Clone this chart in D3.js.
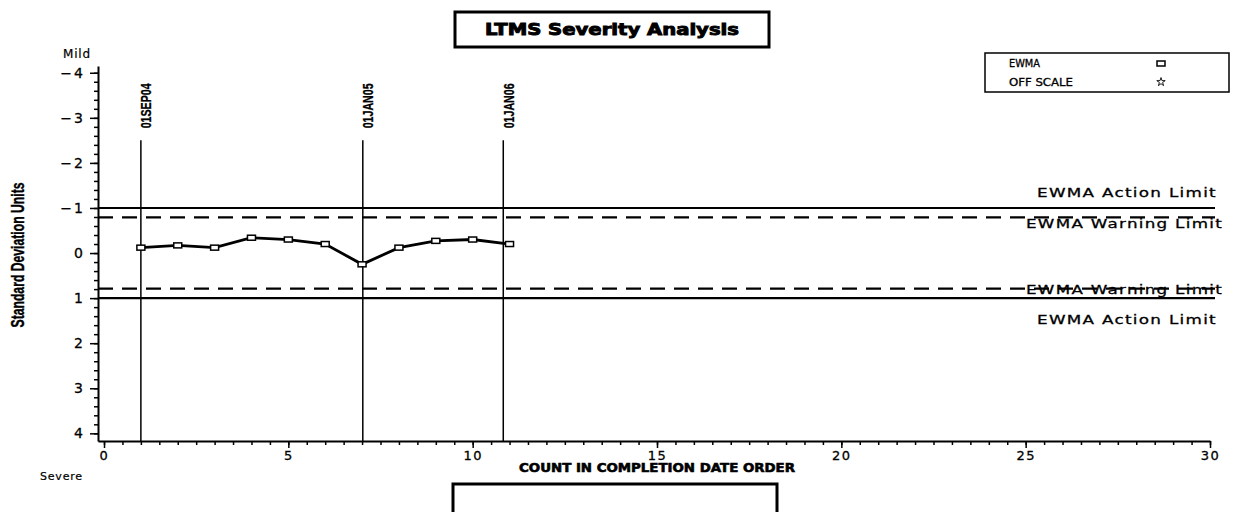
<!DOCTYPE html>
<html>
<head>
<meta charset="utf-8">
<script src="https://cdn.jsdelivr.net/npm/d3@7"></script>
<style>
  body { margin: 0; background: #fff; }
  svg { display: block; }
  text { fill: #000; }
</style>
</head>
<body>
<div id="chart"></div>
<script>
// data
let counts = [1, 2, 3, 4, 5, 6, 7, 8, 9, 10, 11];
let ewma = [-0.12, -0.17, -0.12, -0.34, -0.30, -0.20, 0.25, -0.12, -0.27, -0.30, -0.20];
let dateLabels = ['01SEP04', '01JAN05', '01JAN06'];
let dateCounts = [1, 7.02, 10.83];
let limitValues = [-1, -0.79, 0.79, 1];
let limitNames = ['EWMA Action Limit', 'EWMA Warning Limit', 'EWMA Warning Limit', 'EWMA Action Limit'];
let limitDashed = [false, true, true, false];
let xTicks = [0, 5, 10, 15, 20, 25, 30];
let yTicks = [-4, -3, -2, -1, 0, 1, 2, 3, 4];
let legendNames = ['EWMA', 'OFF SCALE'];

let config = {svg: {}, plot: {}};
config.svg.width = 1234;
config.svg.height = 512;
config.plot.left = 98;
config.plot.right = 1210;
config.plot.top = 66;
config.plot.bottom = 441;

let svg = d3.select('#chart').append('svg')
    .attr('width', config.svg.width)
    .attr('height', config.svg.height);

let x = d3.scaleLinear().domain([-0.163, 30]).range([config.plot.left, config.plot.right]);
let y = d3.scaleLinear().domain([-4.15, 4.17]).range([config.plot.top, config.plot.bottom]);

let tickFont = '"DejaVu Sans", sans-serif';

// title box
svg.append('rect')
  .attr('x', 455).attr('y', 12).attr('width', 314).attr('height', 35)
  .attr('fill', 'none').attr('stroke', '#000').attr('stroke-width', 3);
svg.append('text')
  .attr('x', 612).attr('y', 35)
  .attr('text-anchor', 'middle')
  .style('font', 'bold 15px "DejaVu Sans", sans-serif')
  .attr('stroke', '#000').attr('stroke-width', 0.9)
  .attr('textLength', 254).attr('lengthAdjust', 'spacingAndGlyphs')
  .text('LTMS Severity Analysis');

// legend box
let legend = svg.append('g');
legend.append('rect')
  .attr('x', 985).attr('y', 53).attr('width', 244).attr('height', 39)
  .attr('fill', 'none').attr('stroke', '#000').attr('stroke-width', 1.5);
legend.selectAll('text.lg').data(legendNames).enter().append('text')
  .attr('class', 'lg')
  .attr('x', 1009)
  .attr('y', (d, i) => 67 + i * 19)
  .style('font', '10px "DejaVu Sans", sans-serif')
  .attr('stroke', '#000').attr('stroke-width', 0.3)
  .attr('textLength', (d, i) => i === 0 ? 31 : 64)
  .attr('lengthAdjust', 'spacingAndGlyphs')
  .text(d => d);
legend.append('rect')
  .attr('x', 1157).attr('y', 61).attr('width', 8).attr('height', 5)
  .attr('fill', 'none').attr('stroke', '#000').attr('stroke-width', 1.5);
legend.append('path')
  .attr('d', d3.symbol().type(d3.symbolStar).size(22))
  .attr('transform', 'translate(1161,82)')
  .attr('fill', 'none').attr('stroke', '#000').attr('stroke-width', 0.9);

// x axis, major + minor ticks
svg.append('g')
  .attr('transform', 'translate(0,' + config.plot.bottom + ')')
  .call(d3.axisBottom(x).tickValues(d3.range(0, 30.01, 0.5)).tickSize(4).tickFormat(''))
  .call(g => g.select('.domain').remove())
  .call(g => g.selectAll('line').attr('stroke-width', 1.5));
let xAxis = svg.append('g')
  .attr('transform', 'translate(0,' + config.plot.bottom + ')')
  .call(d3.axisBottom(x).tickValues(xTicks).tickSize(7).tickPadding(3).tickSizeOuter(0).tickFormat(d3.format('d')));
xAxis.select('.domain').attr('stroke-width', 2);
xAxis.selectAll('line').attr('stroke-width', 1.5);
xAxis.selectAll('text')
  .style('font', '13px ' + tickFont)
  .style('letter-spacing', '1.5px')
  .attr('stroke', '#000').attr('stroke-width', 0.3);

// y axis, major + minor ticks
svg.append('g')
  .attr('transform', 'translate(' + config.plot.left + ',0)')
  .call(d3.axisLeft(y).tickValues(d3.range(-4, 4.01, 0.2)).tickSize(4).tickFormat(''))
  .call(g => g.select('.domain').remove())
  .call(g => g.selectAll('line').attr('stroke-width', 1.5));
let yAxis = svg.append('g')
  .attr('transform', 'translate(' + config.plot.left + ',0)')
  .call(d3.axisLeft(y).tickValues(yTicks).tickSize(8).tickPadding(5).tickSizeOuter(0));
yAxis.select('.domain').attr('stroke-width', 2);
yAxis.selectAll('line').attr('stroke-width', 1.5);
yAxis.selectAll('text')
  .style('font', '14px ' + tickFont)
  .style('letter-spacing', '2px')
  .attr('stroke', '#000').attr('stroke-width', 0.3);

// axis titles
svg.append('text')
  .attr('transform', 'translate(24,255) rotate(-90)')
  .attr('text-anchor', 'middle')
  .style('font', 'bold 18px "Liberation Sans", sans-serif')
  .attr('stroke', '#000').attr('stroke-width', 0.4)
  .attr('textLength', 145).attr('lengthAdjust', 'spacingAndGlyphs')
  .text('Standard Deviation Units');
svg.append('text')
  .attr('x', 657).attr('y', 472)
  .attr('text-anchor', 'middle')
  .style('font', 'bold 12px "DejaVu Sans", sans-serif')
  .attr('stroke', '#000').attr('stroke-width', 0.6)
  .attr('textLength', 276).attr('lengthAdjust', 'spacingAndGlyphs')
  .text('COUNT IN COMPLETION DATE ORDER');
svg.append('text')
  .attr('x', 63).attr('y', 58)
  .style('font', '12px "DejaVu Sans", sans-serif')
  .style('letter-spacing', '0.8px')
  .attr('stroke', '#000').attr('stroke-width', 0.2)
  .text('Mild');
svg.append('text')
  .attr('x', 40).attr('y', 480)
  .style('font', '11px "DejaVu Sans", sans-serif')
  .style('letter-spacing', '0.8px')
  .attr('stroke', '#000').attr('stroke-width', 0.2)
  .text('Severe');

// bottom (empty) footnote box
svg.append('path')
  .attr('d', 'M453,514 V484 H777 V514')
  .attr('fill', 'none').attr('stroke', '#000').attr('stroke-width', 3);

// limit lines
svg.selectAll('line.limit').data(limitValues).enter().append('line')
  .attr('class', 'limit')
  .attr('x1', config.plot.left).attr('x2', 1215)
  .attr('y1', d => y(d)).attr('y2', d => y(d))
  .attr('stroke', '#000').attr('stroke-width', 2.2)
  .attr('stroke-dasharray', (d, i) => limitDashed[i] ? '15,9' : null);
svg.selectAll('text.limit').data(limitValues).enter().append('text')
  .attr('class', 'limit')
  .attr('x', (d, i) => limitDashed[i] ? 1223 : 1217)
  .attr('y', (d, i) => {
    if (i === 0) return y(d) - 11;
    if (i === 1) return y(d) + 11;
    if (i === 2) return y(d) + 5;
    return y(d) + 26;
  })
  .attr('text-anchor', 'end')
  .style('font', '13px "DejaVu Sans", sans-serif')
  .style('letter-spacing', '1px')
  .attr('stroke', '#000').attr('stroke-width', 0.3)
  .attr('textLength', (d, i) => limitDashed[i] ? 197 : 180)
  .attr('lengthAdjust', 'spacingAndGlyphs')
  .text((d, i) => limitNames[i]);

// date reference lines
svg.selectAll('line.date').data(dateCounts).enter().append('line')
  .attr('class', 'date')
  .attr('x1', d => x(d)).attr('x2', d => x(d))
  .attr('y1', y(-2.5)).attr('y2', config.plot.bottom)
  .attr('stroke', '#000').attr('stroke-width', 1.5);
svg.selectAll('text.date').data(dateCounts).enter().append('text')
  .attr('class', 'date')
  .attr('transform', d => 'translate(' + (x(d) + 10.5) + ',' + (y(-2.5) - 12) + ') rotate(-90)')
  .style('font', 'bold 14px "Liberation Sans", sans-serif')
  .attr('stroke', '#000').attr('stroke-width', 0.3)
  .attr('textLength', 45).attr('lengthAdjust', 'spacingAndGlyphs')
  .text((d, i) => dateLabels[i]);

// EWMA series
let line = d3.line().x(d => x(d[0])).y(d => y(d[1]));
let points = counts.map((c, i) => [c, ewma[i]]);
svg.append('path')
  .datum(points)
  .attr('d', line)
  .attr('fill', 'none').attr('stroke', '#000').attr('stroke-width', 2.8);
svg.selectAll('rect.pt').data(points).enter().append('rect')
  .attr('class', 'pt')
  .attr('x', d => x(d[0]) - 4).attr('y', d => y(d[1]) - 2.5)
  .attr('width', 8).attr('height', 5)
  .attr('fill', '#fff').attr('stroke', '#000').attr('stroke-width', 1.5);
</script>
</body>
</html>
